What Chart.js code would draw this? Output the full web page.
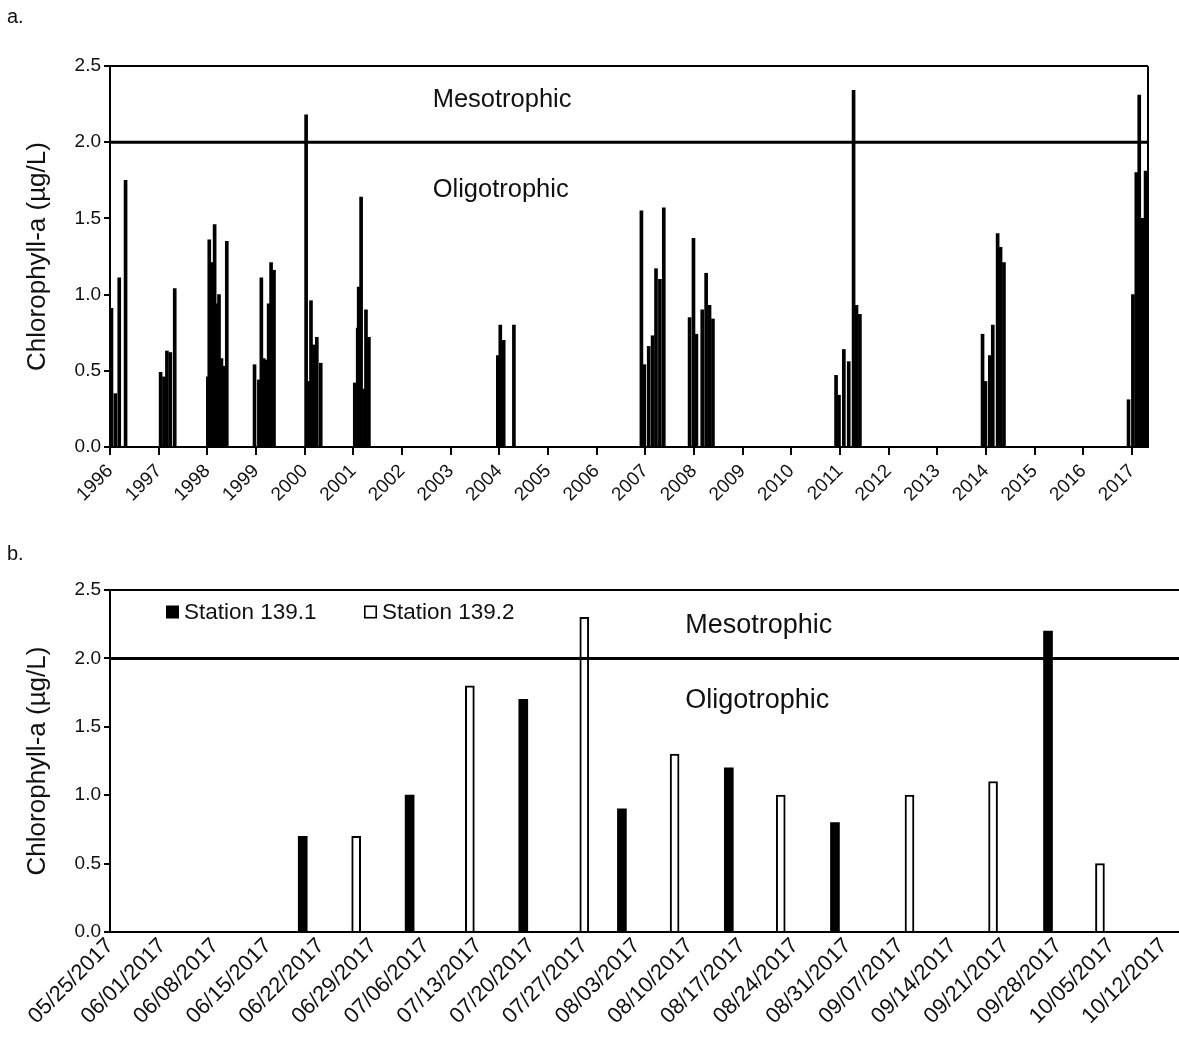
<!DOCTYPE html>
<html><head><meta charset="utf-8">
<script src="https://cdn.jsdelivr.net/npm/chart.js@4.4.0/dist/chart.umd.min.js"></script>
<style>
html,body{margin:0;padding:0;background:#fff;overflow:hidden;width:1179px;height:1043px;}
#wrapA{position:absolute;left:0;top:0;width:1179px;height:525px;}
#wrapB{position:absolute;left:0;top:520px;width:1179px;height:523px;}
.plabel{position:absolute;font-family:'Liberation Sans',Arial,sans-serif;font-size:20px;color:#111;}
</style></head><body>
<div id="wrapA"><canvas id="chartA"></canvas></div>
<div id="wrapB"><canvas id="chartB"></canvas></div>
<div class="plabel" style="left:7px;top:5px">a.</div>
<div class="plabel" style="left:7px;top:542px">b.</div>
<script>
// ---------- Panel a: long-term record (decimal year of sample, chlorophyll-a µg/L)
const sampleYearsA = [
  1996.03,1996.11,1996.19,1996.32,
  1997.04,1997.11,1997.17,1997.24,1997.33,
  1998.01,1998.04,1998.09,1998.15,1998.19,1998.24,1998.29,1998.34,1998.40,
  1998.97,1999.06,1999.11,1999.16,1999.22,1999.26,1999.31,1999.37,
  2000.03,2000.09,2000.13,2000.19,2000.25,2000.33,
  2001.03,2001.09,2001.11,2001.16,2001.22,2001.26,2001.32,
  2003.97,2004.02,2004.09,2004.30,
  2006.92,2006.98,2007.07,2007.15,2007.22,2007.30,2007.38,
  2007.91,2007.99,2008.05,2008.17,2008.25,2008.32,2008.39,
  2010.92,2010.98,2011.08,2011.18,2011.28,2011.34,2011.41,
  2013.93,2013.99,2014.08,2014.14,2014.24,2014.30,2014.37,
  2016.93,2017.02,2017.09,2017.15,2017.22,2017.28
];
const chlA = [
  0.91,0.35,1.11,1.75,
  0.49,0.46,0.63,0.62,1.04,
  0.46,1.36,1.21,1.46,0.94,1.00,0.58,0.53,1.35,
  0.54,0.44,1.11,0.58,0.57,0.94,1.21,1.16,
  2.18,0.43,0.96,0.67,0.72,0.55,
  0.42,0.78,1.05,1.64,0.38,0.90,0.72,
  0.60,0.80,0.70,0.80,
  1.55,0.54,0.66,0.73,1.17,1.10,1.57,
  0.85,1.37,0.74,0.90,1.14,0.93,0.84,
  0.47,0.34,0.64,0.56,2.34,0.93,0.87,
  0.74,0.43,0.60,0.80,1.40,1.31,1.21,
  0.31,1.00,1.80,2.31,1.50,1.81
];
const yearLabels = ['1996','1997','1998','1999','2000','2001','2002','2003','2004','2005','2006',
  '2007','2008','2009','2010','2011','2012','2013','2014','2015','2016','2017'];
const yearMin = 1996, yearMax = 2017.33;

// ---------- Panel b: 2017 season (days after 05/25/2017)
const dateLabels = ['05/25/2017','06/01/2017','06/08/2017','06/15/2017','06/22/2017','06/29/2017',
  '07/06/2017','07/13/2017','07/20/2017','07/27/2017','08/03/2017','08/10/2017','08/17/2017',
  '08/24/2017','08/31/2017','09/07/2017','09/14/2017','09/21/2017','09/28/2017',
  '10/05/2017','10/12/2017'];
const dayMax = 142;
const station1Label = 'Station 139.1';
const station1Days = [25.6, 39.8, 54.9, 68.0, 82.2, 96.3, 124.6];
const station1Chl  = [0.7, 1.0, 1.7, 0.9, 1.2, 0.8, 2.2];
const station2Label = 'Station 139.2';
const station2Days = [32.7, 47.8, 63.0, 75.0, 89.1, 106.2, 117.3, 131.5];
const station2Chl  = [0.7, 1.8, 2.3, 1.3, 1.0, 1.0, 1.1, 0.5];

// ---------- shared
const yTickValues = [0, 0.5, 1.0, 1.5, 2.0, 2.5];
const trophicThreshold = 2.0;
const zoneNames = ['Mesotrophic', 'Oligotrophic'];
const yTitle = 'Chlorophyll-a (µg/L)';

const FONT = "'Liberation Sans', Arial, sans-serif";
const TXT = '#111';

const toXY = (xs, ys) => xs.map((x, i) => ({x, y: ys[i]}));

const decorPlugin = {
  id: 'decor',
  afterDatasetsDraw(chart, args, opts) {
    const {ctx, chartArea: a} = chart;
    const xs = chart.scales.x, ys = chart.scales.y;
    ctx.save();
    ctx.strokeStyle = '#000';
    ctx.lineWidth = 2;
    ctx.beginPath();
    ctx.moveTo(a.left, a.top); ctx.lineTo(a.right, a.top);
    if (opts.rightBorder) { ctx.moveTo(a.right, a.top); ctx.lineTo(a.right, a.bottom); }
    ctx.stroke();
    ctx.fillStyle = TXT;
    ctx.font = opts.zoneFont + 'px ' + FONT;
    ctx.textAlign = 'left';
    ctx.textBaseline = 'alphabetic';
    opts.zones.forEach((z, i) => ctx.fillText(zoneNames[i], xs.getPixelForValue(z.x), ys.getPixelForValue(z.y)));
    if (opts.legend) {
      const L = opts.legend;
      ctx.font = L.font + 'px ' + FONT;
      ctx.textBaseline = 'middle';
      L.items.forEach(it => {
        const bx = a.left + it.dx, by = a.top + L.dy;
        if (it.filled) { ctx.fillStyle = '#000'; ctx.fillRect(bx, by - 6.5, 13, 13); }
        else { ctx.lineWidth = 1.6; ctx.strokeStyle = '#000'; ctx.strokeRect(bx + 0.8, by - 5.7, 11.4, 11.4); }
        ctx.fillStyle = TXT;
        ctx.fillText(it.text, bx + 18, by + 1);
      });
    }
    ctx.restore();
  }
};

function yScale(tickFont) {
  return {
    min: 0, max: 2.5,
    afterBuildTicks: s => { s.ticks = yTickValues.map(v => ({value: v})); },
    afterFit: s => { s.width = 110; },
    ticks: { color: TXT, font: {family: FONT, size: tickFont}, padding: 3, callback: v => v.toFixed(1) },
    grid: { display: true, drawOnChartArea: false, drawTicks: true, tickLength: 6, color: '#000', lineWidth: 2 },
    border: { display: true, color: '#000', width: 2 },
    title: { display: true, text: yTitle, color: TXT, font: {family: FONT, size: 26, lineHeight: 1.2}, padding: {top: 22, bottom: 0} }
  };
}

Chart.defaults.animation = false;

new Chart(document.getElementById('chartA'), {
  type: 'bar',
  data: {
    datasets: [
      { type: 'line', data: [{x: yearMin, y: trophicThreshold}, {x: yearMax, y: trophicThreshold}],
        borderColor: '#000', borderWidth: 3, pointRadius: 0, order: 0 },
      { type: 'bar', data: toXY(sampleYearsA, chlA), backgroundColor: '#000', borderWidth: 0,
        barThickness: 3, order: 1 }
    ]
  },
  options: {
    responsive: true, maintainAspectRatio: false, devicePixelRatio: 1,
    layout: { padding: {top: 66, right: 31, left: 0, bottom: 0} },
    plugins: { legend: {display: false}, tooltip: {enabled: false},
      decor: { rightBorder: true, zoneFont: 25.5,
        zones: [{x: 2002.63, y: 2.233}, {x: 2002.63, y: 1.642}] } },
    scales: {
      x: {
        type: 'linear', min: yearMin, max: yearMax, offset: false,
        afterFit: s => { s.height = 78; },
        ticks: { stepSize: 1, maxTicksLimit: 100, includeBounds: false, autoSkip: false,
          minRotation: 45, maxRotation: 45, padding: 5, color: TXT, font: {family: FONT, size: 19},
          callback: v => yearLabels[Math.round(v - yearMin)] ?? '' },
        grid: { display: true, offset: false, drawOnChartArea: false, drawTicks: true, tickLength: 8, color: '#000', lineWidth: 2 },
        border: { display: true, color: '#000', width: 2 }
      },
      y: yScale(19)
    }
  },
  plugins: [decorPlugin]
});

new Chart(document.getElementById('chartB'), {
  type: 'bar',
  data: {
    datasets: [
      { type: 'line', data: [{x: 0, y: trophicThreshold}, {x: dayMax, y: trophicThreshold}],
        borderColor: '#000', borderWidth: 3, pointRadius: 0, order: 0 },
      { type: 'bar', label: station1Label, data: toXY(station1Days, station1Chl),
        backgroundColor: '#000', borderColor: '#000', borderWidth: 0, barThickness: 9, grouped: false, order: 1 },
      { type: 'bar', label: station2Label, data: toXY(station2Days, station2Chl),
        backgroundColor: '#fff', borderColor: '#000', borderWidth: 2, barThickness: 9, grouped: false, order: 1 }
    ]
  },
  options: {
    responsive: true, maintainAspectRatio: false, devicePixelRatio: 1,
    layout: { padding: {top: 70, right: 0, left: 0, bottom: 0} },
    plugins: { legend: {display: false}, tooltip: {enabled: false},
      decor: { rightBorder: false, zoneFont: 27,
        zones: [{x: 76.4, y: 2.187}, {x: 76.4, y: 1.634}],
        legend: { font: 22.5, dy: 22, items: [
          {dx: 56, filled: true, text: station1Label},
          {dx: 254, filled: false, text: station2Label}] } } },
    scales: {
      x: {
        type: 'linear', min: 0, max: dayMax, offset: false,
        afterFit: s => { s.height = 111; s.paddingRight = 0; s.paddingLeft = 0; },
        ticks: { stepSize: 7, maxTicksLimit: 100, includeBounds: false, autoSkip: false,
          minRotation: 45, maxRotation: 45, padding: 1, color: TXT, font: {family: FONT, size: 22},
          callback: v => dateLabels[Math.round(v / 7)] ?? '' },
        grid: { display: false, offset: false, drawTicks: false },
        border: { display: true, color: '#000', width: 2 }
      },
      y: yScale(19)
    }
  },
  plugins: [decorPlugin]
});
</script>
</body></html>
